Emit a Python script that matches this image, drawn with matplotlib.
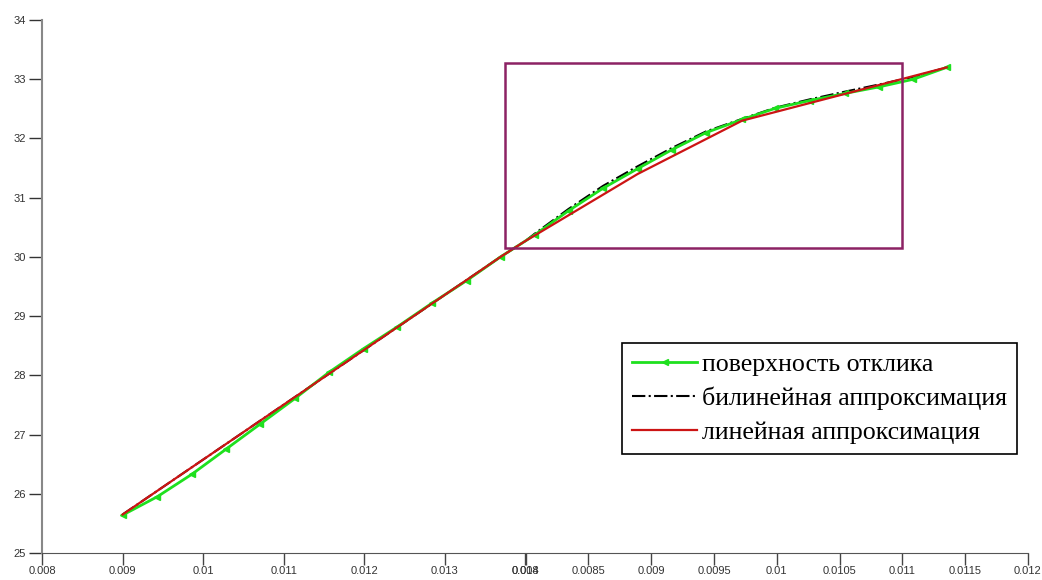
import numpy as np
import matplotlib.pyplot as plt
from matplotlib.patches import Rectangle

# response surface, first stretch (lower x scale 0.008-0.014)
x_left = [0.00900, 0.00943, 0.00986, 0.01028, 0.01071, 0.01114,
          0.01156, 0.01199, 0.01241, 0.01284, 0.01327, 0.01369]
y_left = [25.64, 25.95, 26.33, 26.75, 27.18, 27.61,
          28.05, 28.45, 28.82, 29.22, 29.60, 30.00]

# response surface, second stretch (upper x scale 0.008-0.012)
x_right = [0.008072, 0.008343, 0.008618, 0.008893, 0.009166, 0.009439, 0.009724,
           0.009990, 0.010263, 0.010542, 0.010813, 0.011088, 0.011353]
y_right = [30.37, 30.78, 31.16, 31.49, 31.81, 32.10, 32.32,
           32.51, 32.64, 32.76, 32.87, 33.00, 33.20]

# point where the two x scales meet
x_join_left, x_join_right, y_join = 0.014, 0.008, 30.27

# bilinear approximation
bil_x_left = [0.00900, 0.01369]
bil_y_left = [25.65, 30.00]
bil_y_right = [30.39, 30.81, 31.20, 31.53, 31.84, 32.12, 32.33,
               32.52, 32.66, 32.79, 32.91, 33.04, 33.20]

# linear approximation
lin_x_left = [0.00900, 0.01369]
lin_y_left = [25.65, 30.00]
lin_x_right = [0.008072, 0.008893, 0.009724, 0.011353]
lin_y_right = [30.36, 31.40, 32.30, 33.20]

xticks_left = [0.008, 0.009, 0.010, 0.011, 0.012, 0.013, 0.014]
xticks_right = [0.008, 0.0085, 0.009, 0.0095, 0.010, 0.0105, 0.011, 0.0115, 0.012]
yticks = [25, 26, 27, 28, 29, 30, 31, 32, 33, 34]

# zoomed region
box_x = (0.007837, 0.010994)
box_y = (30.15, 33.27)

green = '#1ee01e'
red = '#cc1414'
purple = '#8c2264'

W, H = 1042, 580
fig = plt.figure(figsize=(W / 100, H / 100), dpi=100)
bot, top = 1 - 553 / H, 1 - 20 / H
ax1 = fig.add_axes([42 / W, bot, (525.5 - 42) / W, top - bot])
ax2 = fig.add_axes([525.5 / W, bot, (1028 - 525.5) / W, top - bot], sharey=ax1)

# left part: curves run up to the joint
xl = x_left + [x_join_left]
ax1.plot(bil_x_left + [x_join_left], bil_y_left + [y_join], color='k', ls='-.', lw=1.5, zorder=2)
ax1.plot(xl, y_left + [y_join], color=green, lw=2, marker='<', ms=5,
         markevery=list(range(len(x_left))), zorder=3)
ax1.plot(lin_x_left + [x_join_left], lin_y_left + [y_join], color=red, lw=1.6, zorder=4)

# right part: curves start from the joint
xr = [x_join_right] + x_right
l_bil, = ax2.plot(xr, [y_join] + bil_y_right, color='k', ls='-.', lw=1.5, zorder=2)
l_srf, = ax2.plot(xr, [y_join] + y_right, color=green, lw=2, marker='<', ms=5,
                  markevery=list(range(1, len(xr))), zorder=3)
l_lin, = ax2.plot([x_join_right] + lin_x_right, [y_join] + lin_y_right,
                  color=red, lw=1.6, zorder=4)

ax2.add_patch(Rectangle((box_x[0], box_y[0]), box_x[1] - box_x[0], box_y[1] - box_y[0],
                        fill=False, edgecolor=purple, lw=1.8, clip_on=False, zorder=5))

ax1.set_xlim(0.008, 0.014)
ax2.set_xlim(0.008, 0.012)
ax1.set_ylim(25, 34)

ax1.set_xticks(xticks_left)
ax1.set_xticklabels(['%g' % v for v in xticks_left])
ax2.set_xticks(xticks_right)
ax2.set_xticklabels(['%g' % v for v in xticks_right])
ax1.set_yticks(yticks)
ax1.set_yticklabels(['%d' % v for v in yticks])

for ax in (ax1, ax2):
    ax.set_facecolor('none')
    ax.spines['top'].set_visible(False)
    ax.spines['right'].set_visible(False)
    ax.spines['bottom'].set_color('#555555')
    ax.tick_params(axis='x', direction='out', length=8.5, width=1, color='#444444',
                   labelsize=8, labelcolor='#333333', pad=1)
    for t in ax.get_xticklabels():
        t.set_fontfamily('Liberation Sans')
ax1.spines['left'].set_color('#888888')
ax1.spines['left'].set_linewidth(1.5)
ax1.tick_params(axis='y', direction='out', length=9.5, width=1, color='#333333',
                labelsize=8, labelcolor='#333333', pad=2)
for t in ax1.get_yticklabels():
    t.set_fontfamily('Liberation Sans')
ax2.spines['left'].set_visible(False)
ax2.tick_params(axis='y', left=False, labelleft=False)

leg = fig.legend([l_srf, l_bil, l_lin],
                 ['поверхность отклика', 'билинейная аппроксимация', 'линейная аппроксимация'],
                 loc='upper left', bbox_to_anchor=(622 / W, 1 - 343 / H),
                 borderaxespad=0, frameon=True, fancybox=False, edgecolor='k',
                 framealpha=1, handlelength=2.5, handletextpad=0.2, labelspacing=0.4,
                 borderpad=0.4, prop={'family': 'Liberation Serif', 'size': 18.6})
leg.get_frame().set_linewidth(1.2)

fig.savefig('out.png', dpi=100)
